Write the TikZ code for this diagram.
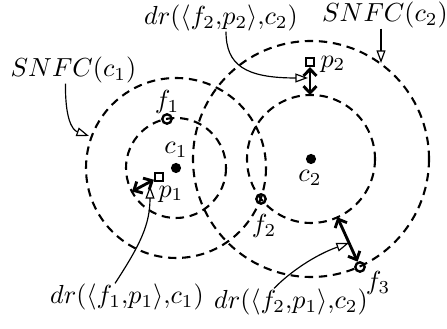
\documentclass[tikz,border=0pt]{standalone}
\usetikzlibrary{arrows.meta,calc}
\begin{document}
\begin{tikzpicture}[x=0.383pt,y=-0.383pt,
  ring/.style={line width=0.8pt,dash pattern=on 3.2pt off 2.2pt},
  fpt/.style={circle,draw,line width=0.9pt,minimum size=3.6pt,inner sep=0pt},
  psq/.style={rectangle,draw,line width=0.9pt,minimum size=3pt,inner sep=0pt},
  cdot/.style={circle,fill,inner sep=0pt,minimum size=3.9pt},
  dbl/.style={line width=1.1pt,{Straight Barb[length=2.6pt,width=5pt]}-{Straight Barb[length=2.6pt,width=5pt]}},
  call/.style={line width=0.45pt,-{Triangle[open,length=4.8pt,width=3.4pt]}},
  lab/.style={inner sep=0pt}]
\useasboundingbox (0,0) rectangle (447,329);
% centres
\node[cdot] (c1) at (176,168) {};
\node[cdot] (c2) at (311,159) {};
% circles
\draw[ring] (c1.center) circle[radius=50];
\draw[ring] (c1.center) circle[radius=90];
\draw[ring] (c2.center) circle[radius=64];
\draw[ring] (c2.center) circle[radius=118];
% points
\node[fpt] (f1) at (167,119) {};
\node[fpt] (f2) at (261,199) {};
\node[fpt] (f3) at (360,267) {};
\node[psq] (p1) at (159,177) {};
\node[psq] (p2) at (310,62) {};
% arrow ends
\coordinate (e1) at (132,191.5);
\coordinate (e2) at (310,95);
\coordinate (e3) at (337.4,217.3);
\draw[dbl] (p1) -- (e1);
\draw[dbl] (p2) -- (e2);
\draw[dbl] (f3) -- (e3);
% point labels
\node[lab] (lc1) at (176,150) {$c_1$};
\node[lab] (lc2) at (310,178) {$c_2$};
\node[lab] (lf1) at (167,102) {$f_1$};
\node[lab] (lf2) at (264,226) {$f_2$};
\node[lab] (lf3) at (378,283) {$f_3$};
\node[lab] (lp1) at (171,194) {$p_1$};
\node[lab] (lp2) at (333,64) {$p_2$};
% callout labels
\node[lab] (snfc1) at (73.5,70) {$SNFC(c_1)$};
\node[lab] (snfc2) at (385,15) {$SNFC(c_2)$};
\node[lab] (dr22) at (221,18) {$dr(\langle f_2{,}p_2\rangle{,}c_2)$};
\node[lab] (dr11) at (127,297) {$dr(\langle f_1{,}p_1\rangle{,}c_1)$};
\node[lab] (dr21) at (291,302) {$dr(\langle f_2{,}p_1\rangle{,}c_2)$};
% callout targets
\coordinate (a1) at (89,136);
\coordinate (a2) at (381,63);
\coordinate (a3) at (308,78);
\coordinate (a4) at (150,186);
\coordinate (a5) at (349,243);
\draw[call] ($(snfc1.south)+(-8,0)$) .. controls (65,118) and (72,130) .. (a1);
\draw[call] ($(snfc2.south)+(-4,0)$) -- (a2);
\draw[call] ($(dr22.south)+(5,0)$) .. controls (226,65) and (245,78) .. (a3);
\draw[call] ($(dr11.north)+(-12,0)$) .. controls (140,245) and (150,225) .. (a4);
\draw[call] ($(dr21.north)+(-17,0)$) .. controls (290,272) and (315,255) .. (a5);
\end{tikzpicture}
\end{document}
